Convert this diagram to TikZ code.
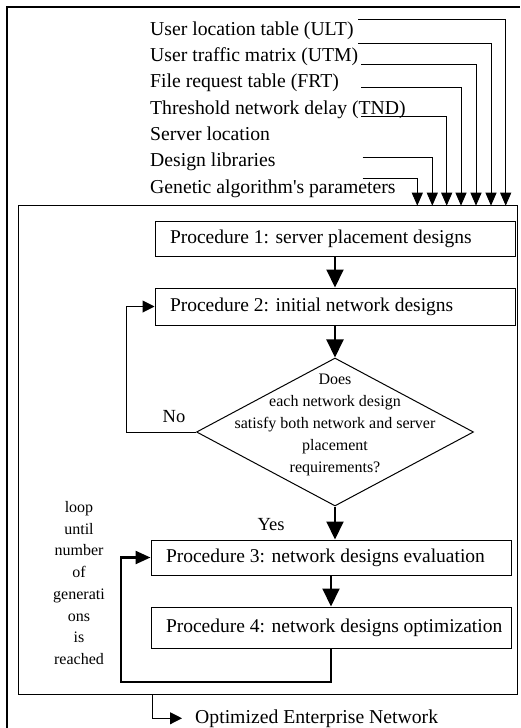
\documentclass[tikz,border=0pt]{standalone}
\usepackage{fontspec}
\setmainfont{Liberation Serif}
\usetikzlibrary{arrows.meta,positioning,shapes.geometric}

\newcommand{\procline}[1]{\makebox[330pt][l]{#1}}

\begin{document}
\begin{tikzpicture}[x=1pt,y=-1pt,
    item/.style={anchor=base west,inner sep=0pt,font=\fontsize{19.7}{23}\selectfont},
    procbox/.style={draw,rectangle,line width=1pt,inner xsep=15pt,inner ysep=0pt,minimum width=360pt,minimum height=35pt,font=\fontsize{19.5}{23}\selectfont},
    decision/.style={draw,diamond,line width=1pt,minimum width=277pt,minimum height=148pt,inner sep=0pt},
    dectext/.style={align=center,inner sep=0pt,font=\fontsize{16}{22}\selectfont},
    feed/.style={-{Triangle[length=13pt,width=11pt]},line width=1pt},
    flow/.style={-{Triangle[length=18pt,width=17pt]},line width=2pt},
    backarrow/.style={-{Triangle[length=12pt,width=12pt]},line width=1pt},
    loopback/.style={-{Triangle[length=15pt,width=13pt]},line width=2.4pt}]
  \useasboundingbox (0,0) rectangle (520,728);

  % frames
  \draw[line width=1.3pt] (7,728) -- (7,7) -- (520,7);
  \node[draw,line width=1pt,minimum width=499pt,minimum height=488.3pt,inner sep=0pt] (frame) at (268,449.85) {};

  % inputs
  \node[item] (ult) at (150,35) {User location table (ULT)};
  \node[item] (utm) at (150,61.3) {User traffic matrix (UTM)};
  \node[item] (frt) at (150,87.7) {File request table (FRT)};
  \node[item] (tnd) at (150,114) {Threshold network delay (TND)};
  \node[item] (srv) at (150,140.3) {Server location};
  \node[item] (lib) at (150,166.7) {Design libraries};
  \node[item] (gap) at (150,193) {Genetic algorithm\textquotesingle s parameters};

  \coordinate (s1) at (358.3,19);    \coordinate (d1) at (505.7,205.7);
  \coordinate (s2) at (358.3,43.3);  \coordinate (d2) at (491,205.7);
  \coordinate (s3) at (361,64.3);    \coordinate (d3) at (476,205.7);
  \coordinate (s4) at (361,87.7);    \coordinate (d4) at (461,205.7);
  \coordinate (s5) at (361,116.7);   \coordinate (d5) at (446.7,205.7);
  \coordinate (s6) at (362.7,157.7); \coordinate (d6) at (432.3,205.7);
  \coordinate (s7) at (362.7,178.3); \coordinate (d7) at (417.3,205.7);
  \draw[feed] (s1) -| (d1);
  \draw[feed] (s2) -| (d2);
  \draw[feed] (s3) -| (d3);
  \draw[feed] (s4) -| (d4);
  \draw[feed] (s5) -| (d5);
  \draw[feed] (s6) -| (d6);
  \draw[feed] (s7) -| (d7);

  % procedures
  \node[procbox] (p1) at (335,238.5) {\procline{Procedure 1: server placement designs}};
  \node[procbox,minimum width=357pt,minimum height=37pt] (p2) at (335,306.5) {\procline{Procedure 2: initial network designs}};
  \node[decision] (dec) at (335,432) {};
  \node[dectext] (q) at (335,424.5) {Does\\each network design\\satisfy both network and server\\placement\\requirements?};
  \node[procbox] (p3) at (331,557.5) {\procline{Procedure 3: network designs evaluation}};
  \node[procbox,minimum height=41pt] (p4) at (331,627.5) {\procline{Procedure 4: network designs optimization}};

  \draw[flow] (p1) -- (p2);
  \draw[flow] (p2) -- (dec);
  \draw[flow] (dec.south) -- (dec.south |- p3.north);
  \draw[flow] (p3) -- (p4);

  % no branch
  \coordinate (nocorner) at (126.7,432);
  \draw[backarrow] (dec.west) -- (nocorner) |- (p2.west);
  \node[inner sep=0pt,font=\fontsize{18.5}{22}\selectfont] (no) at (174,417) {No};
  \node[inner sep=0pt,font=\fontsize{18.5}{22}\selectfont] (yes) at (271,525) {Yes};

  % generation loop
  \coordinate (loopcorner) at (121,681.7);
  \draw[loopback] (p4.south) |- (loopcorner) |- (p3.west);
  \node[align=center,inner sep=0pt,font=\fontsize{16}{21.7}\selectfont] (looptxt) at (79,583) {loop\\until\\number\\of\\generati\\ons\\is\\reached};

  % output
  \node[item] (out) at (195,723) {Optimized Enterprise Network};
  \coordinate (o1) at (152.7,694);
  \draw[backarrow] (o1) |- ([xshift=-13pt]out.west);
\end{tikzpicture}
\end{document}
